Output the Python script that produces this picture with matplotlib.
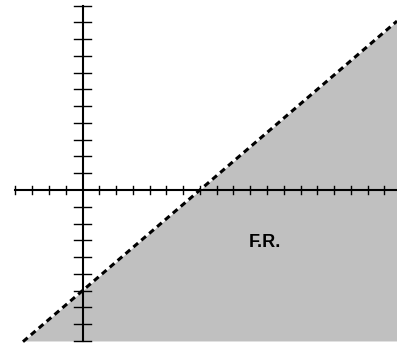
import numpy as np
import matplotlib.pyplot as plt

# boundary line y = m*x + b
slope = 6 / 7
intercept = -6
x_ticks = [v for v in range(-4, 19) if v != 0]
y_ticks = [v for v in range(-9, 12) if v != 0]
label = 'F.R.'
label_pos = (10.9, -3.1)

fig = plt.figure(figsize=(3.97, 3.46), dpi=100)
ax = fig.add_axes([0, 0, 1, 1])
ax.set_xlim(-4.92, 18.75)
ax.set_ylim(-9.30, 11.33)
ax.axis('off')

''' feasible region: below the line, above y=-9 '''
xs = np.linspace(-3.5, 18.75, 200)
ys = slope * xs + intercept
ax.fill_between(xs, -9, ys, where=ys >= -9, color='#c0c0c0', lw=0, zorder=1)

''' axes with tick marks '''
ax.plot([-4, 18.75], [0, 0], color='black', lw=1.5, zorder=2)
ax.plot([0, 0], [-9, 11], color='black', lw=1.5, zorder=2)
for t in x_ticks:
    ax.plot([t, t], [-0.22, 0.22], color='black', lw=1, zorder=2)
for t in y_ticks:
    ax.plot([-0.5, 0.5], [t, t], color='black', lw=1, zorder=2)

''' dashed boundary '''
xl = np.array([-3.55, 18.75])
ax.plot(xl, slope * xl + intercept, color='black', lw=2.2,
        dashes=(2, 1.4), zorder=3)

ax.text(label_pos[0], label_pos[1], label, fontsize=13, fontweight='bold',
        family='Liberation Sans', ha='center', va='center', zorder=4)

fig.savefig('out.png', dpi=100)
